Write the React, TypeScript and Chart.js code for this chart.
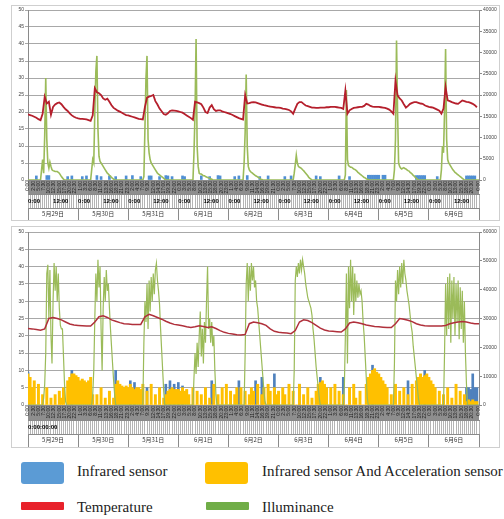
import React, { useEffect, useRef } from 'react';
import { Chart, registerables } from 'chart.js';

Chart.register(...registerables);

// ---------- shared categories ----------
const dates = ['5月29日', '5月30日', '5月31日', '6月1日', '6月2日', '6月3日', '6月4日', '6月5日', '6月6日'];

// ---------- top chart data ----------
// temperature, one value per hour (9 days x 24 h)
const tempTop = [
  19.3, 19.1, 18.9, 18.6, 18.3, 17.9, 17.6, 19.5, 24.5, 22.5, 23.0, 19.2, 21.5, 22.2, 22.6, 22.8, 22.3, 21.5, 20.8, 20.3, 19.6, 19.0, 18.6, 18.3,
  18.1, 18.0, 18.0, 17.9, 17.8, 17.6, 17.4, 19.0, 27.0, 25.8, 25.5, 25.0, 24.0, 23.6, 23.9, 23.0, 22.0, 21.2, 20.8, 20.4, 20.1, 19.8, 19.4, 19.1,
  19.0, 18.8, 18.6, 18.4, 18.2, 18.0, 17.9, 17.8, 21.5, 24.2, 24.5, 24.7, 25.0, 23.2, 22.2, 21.0, 20.2, 19.4, 19.2, 19.6, 20.3, 20.5, 20.4, 20.3,
  20.2, 20.0, 19.8, 19.4, 19.0, 18.6, 18.2, 17.7, 23.0, 22.8, 22.6, 22.3, 21.3, 20.0, 19.7, 21.3, 22.0, 20.8, 20.3, 20.5, 20.5, 20.2, 20.0, 19.8,
  19.6, 19.4, 19.1, 18.8, 18.5, 18.2, 18.0, 17.8, 25.0, 22.5, 22.6, 22.8, 22.9, 22.8, 22.6, 22.4, 22.2, 22.0, 21.9, 21.7, 21.6, 21.5, 21.4, 21.3,
  21.3, 21.2, 21.0, 20.9, 20.8, 20.6, 20.2, 19.5, 21.0, 22.4, 22.9, 22.9, 22.4, 21.9, 21.7, 21.5, 21.3, 21.3, 21.2, 21.2, 21.3, 21.3, 21.3, 21.4,
  21.4, 21.5, 21.5, 21.5, 21.4, 21.3, 21.2, 20.9, 26.3, 19.5, 20.5, 20.9, 21.2, 21.3, 21.4, 21.5, 21.5, 21.8, 22.4, 22.2, 21.8, 21.6, 21.5, 21.5,
  21.5, 21.4, 21.3, 21.2, 21.0, 20.7, 20.2, 19.5, 29.2, 24.9, 24.0, 23.4, 22.3, 21.3, 21.8, 22.4, 22.7, 22.9, 22.9, 22.7, 22.5, 22.4, 22.0, 21.7,
  21.5, 21.4, 21.3, 21.0, 20.7, 20.4, 19.5, 21.0, 27.3, 23.4, 23.2, 22.9, 22.7, 22.5, 22.4, 22.9, 23.4, 23.2, 23.0, 22.9, 22.7, 22.4, 22.0, 21.4,
];

// illuminance (lux): [start hour, readings every half hour]; zero at night
const illumTopSegments: Array<[number, number[]]> = [
  [6.0, [0, 2400, 4800, 1600, 10400, 24000, 9600, 4000, 2800, 4200, 3200, 2400, 2200, 2100, 2000, 2000, 2000, 1800, 1600, 1200, 800, 500, 200, 0]],
  [30.0, [0, 2400, 4800, 4000, 16000, 25600, 29200, 12000, 5600, 4400, 4000, 3600, 3200, 2800, 2400, 2000, 1600, 1400, 1100, 900, 600, 400, 200, 0]],
  [55.0, [0, 800, 12000, 24000, 29200, 9600, 6400, 4800, 4000, 3600, 3200, 2800, 2400, 2000, 1600, 1400, 1200, 1000, 800, 600, 400, 200, 0]],
  [79.0, [0, 6400, 16000, 33200, 8000, 3200, 1600, 1400, 1400, 1200, 1000, 1000, 800, 700, 600, 500, 400, 200, 200, 0]],
  [103.0, [0, 4000, 11200, 24800, 8000, 3200, 2400, 2000, 1800, 1600, 1400, 1200, 1000, 900, 700, 600, 400, 200, 100, 0]],
  [127.0, [0, 1600, 3600, 5800, 4000, 3200, 3000, 2900, 2700, 2400, 2200, 1900, 1600, 1300, 1000, 600, 400, 200, 0]],
  [151.5, [0, 1200, 21200, 4800, 3400, 3200, 3000, 3000, 2800, 2600, 2500, 2300, 2100, 1800, 1600, 1400, 1200, 1000, 800, 600, 500, 300, 200, 100, 0]],
  [175.0, [0, 2400, 9600, 32800, 16000, 4000, 3200, 2800, 2600, 2800, 2900, 2700, 2600, 2400, 2200, 2100, 1800, 1600, 1400, 1100, 900, 600, 400, 200, 0]],
  [197.5, [0, 2400, 8000, 6400, 16000, 30800, 9600, 4800, 4000, 3600, 3200, 2800, 2400, 2100, 1800, 1600, 1400, 1200, 1000, 800, 600, 400, 200, 0]],
];

// infrared sensor hits: [hour, level]
const infraredTop: Array<[number, number]> = [
  [4, 1.2], [9, 1.3], [10, 1.3], [19, 1], [21, 1.2], [26, 1], [28, 1.2], [33, 1.3], [35, 1], [39, 1.2], [42, 1], [47, 1.2],
  [50, 1.3], [54, 1], [58, 1.2], [59, 1.2], [63, 1], [66, 1.3], [67, 1.2], [69, 1], [74, 1.2], [75, 1], [83, 1.2], [87, 1],
  [91, 1.3], [92, 1.2], [99, 1], [101, 1.2], [105, 1.3], [111, 1], [115, 1.2], [123, 1], [126, 1.2], [138, 1.2], [140, 1],
  [149, 1.2], [154, 1], [163, 1.4], [164, 1.4], [165, 1.4], [166, 1.4], [167, 1.4], [168, 1.4], [170, 1.4], [171, 1.4],
  [186, 1.3], [187, 1.3], [188, 1.3], [189, 1.3], [190, 1.3], [196, 1], [210, 1.2], [211, 1.2], [212, 1.2], [213, 1.2], [214, 1.2],
];

// ---------- bottom chart data ----------
// temperature every 2 hours
const tempBottom = [
  22.1, 22.0, 21.8, 21.6, 22.0, 25.0, 25.3, 25.0, 24.6, 24.0, 23.4, 23.1,
  23.0, 22.9, 22.8, 22.8, 24.0, 25.5, 25.8, 25.3, 24.6, 24.2, 23.8, 23.5,
  23.4, 23.3, 23.3, 23.3, 25.5, 26.2, 25.8, 25.3, 24.8, 24.2, 23.7, 23.3,
  23.1, 22.9, 22.6, 22.4, 22.6, 22.9, 22.7, 22.4, 22.6, 22.1, 21.5, 21.0,
  20.7, 20.5, 20.3, 20.2, 20.4, 23.5, 24.0, 23.8, 23.5, 23.0, 22.0, 21.3,
  21.0, 20.9, 20.8, 20.6, 21.5, 24.0, 24.6, 24.4, 23.8, 23.0, 22.2, 21.7,
  21.4, 21.3, 21.2, 21.1, 22.0, 23.7, 24.0, 23.8, 23.5, 23.1, 22.9, 22.7,
  22.6, 22.5, 22.4, 22.4, 23.5, 25.0, 24.8, 24.5, 24.1, 23.5, 23.1, 22.9,
  22.8, 22.8, 22.8, 22.8, 23.0, 23.5, 23.8, 24.0, 24.1, 24.0, 23.7, 23.5,
  23.5,
];

const illumBottomSegments: Array<[number, number[]]> = [
  [7.0, [0, 2400, 7200, 18000, 45600, 48600, 30000, 46800, 24000, 14400, 36000, 49200, 39600, 48000, 36000, 45600, 33600, 27600, 26400, 26400, 16800, 7200, 1200, 0]],
  [30.5, [0, 3600, 12000, 30000, 45600, 36000, 50400, 40800, 48000, 26400, 12000, 33600, 44400, 36000, 46800, 39600, 42000, 33600, 26400, 20400, 14400, 8400, 3600, 0]],
  [55.0, [0, 21600, 36000, 28800, 42000, 26400, 43200, 32400, 44400, 36000, 45600, 38400, 46800, 49200, 43200, 39600, 34800, 26400, 19200, 12000, 4800, 0]],
  [79.0, [0, 9600, 18000, 10800, 21600, 13200, 24000, 32400, 16800, 26400, 14400, 28800, 21600, 36000, 48000, 26400, 30000, 21600, 28800, 20400, 24000, 12000, 3600, 0]],
  [103.5, [0, 18000, 42000, 49200, 36000, 48000, 39600, 49200, 43200, 48000, 40800, 43200, 36000, 33600, 28800, 24000, 19200, 14400, 9600, 4800, 1200, 0]],
  [127.0, [0, 12000, 43200, 48000, 44400, 49200, 45600, 50400, 46800, 50400, 48000, 45600, 42000, 39600, 37200, 36000, 34800, 33600, 31200, 26400, 22800, 18000, 13200, 9600, 6000, 2400, 0]],
  [151.0, [0, 6000, 24000, 45600, 14400, 48000, 33600, 50400, 36000, 48000, 31200, 45600, 36000, 43200, 37200, 42000, 38400, 39600, 36000, 28800, 24000, 16800, 9600, 2400, 0]],
  [175.0, [0, 14400, 43200, 36000, 46800, 38400, 48000, 40800, 49200, 42000, 50400, 45600, 43200, 39600, 37200, 34800, 31200, 27600, 25200, 20400, 16800, 13200, 9600, 6000, 2400, 0]],
  [199.0, [0, 18000, 42000, 24000, 44400, 26400, 45600, 21600, 43200, 30000, 44400, 24000, 42000, 28800, 43200, 22800, 40800, 26400, 39600, 21600, 36000, 18000, 7200, 0]],
];

// infrared + acceleration sensor, one value per hour
const infraredAccelBottom = [
  9, 8, 5, 7, 0, 6, 0, 3, 0, 5, 0, 2, 0, 3, 0, 4, 2, 5, 0, 7, 8, 9, 9, 8.5,
  8, 7, 7.5, 7, 6.5, 7, 8, 3, 0, 3, 0, 5, 0, 2, 0, 4, 0, 2, 6, 7, 6, 5.5, 5, 5.5,
  5, 6, 5, 4.5, 5, 5, 4.5, 6, 0, 4, 0, 6, 0, 3, 0, 5, 0, 2, 3, 4, 4.5, 5, 4.5, 4.5,
  4.5, 4, 5, 4, 4.5, 3, 0, 5, 0, 4, 0, 3, 0, 5, 0, 2, 0, 6, 0, 3, 0, 5, 0, 6,
  0, 4, 0, 3, 5, 0, 5, 0, 4, 0, 3, 5, 4, 0, 6, 0, 3, 5, 0, 6, 4, 0, 5, 3,
  4, 0, 5, 3, 0, 6, 0, 4, 0, 0, 6, 0, 3, 0, 5, 0, 2, 0, 4, 6, 6.5, 7, 6, 5,
  0, 5, 0, 6, 0, 4, 0, 3, 0, 0, 5, 0, 6, 2, 0, 4, 0, 0, 6, 8, 9, 10, 10.5, 9.5,
  9, 8, 7, 6, 5, 0, 3, 0, 6, 0, 4, 0, 5, 0, 3, 0, 6, 0, 7, 8, 9, 8, 8.5, 9,
  8, 7, 6, 5, 0, 4, 0, 3, 0, 5, 0, 2, 0, 6, 0, 4, 0, 3, 1, 1.5, 1, 1.5, 1, 1,
];

const infraredBottom: Array<[number, number]> = [
  [0, 9.5], [21, 10], [42, 10], [49, 7], [51, 6.5], [57, 5], [66, 6], [68, 7], [70, 6], [72, 6.5], [74, 5.5],
  [88, 7], [101, 7], [109, 7], [112, 8], [118, 9], [130, 6], [140, 8], [151, 8], [165, 11.5], [182, 7], [190, 10],
  [210, 5], [211, 5], [212, 4.5], [213, 9], [214, 5], [215, 5],
];

// ---------- legend ----------
const legendItems = [
  { label: 'Infrared sensor', color: '#5b9bd5', kind: 'box', left: 21, top: 462, textLeft: 77, textTop: 464 },
  { label: 'Infrared sensor And Acceleration sensor', color: '#ffc000', kind: 'box', left: 205, top: 462, textLeft: 262, textTop: 464 },
  { label: 'Temperature', color: '#e8222b', kind: 'line', left: 21, top: 502, textLeft: 77, textTop: 500 },
  { label: 'Illuminance', color: '#70ad47', kind: 'line', left: 206, top: 502, textLeft: 262, textTop: 500 },
];

// ---------- helpers ----------
type Pt = { x: number; y: number };
const series = (vals: number[], step: number, start = 0): Pt[] =>
  vals.map((v, i) => ({ x: start + i * step, y: v }));
const segmentsToPoints = (segs: Array<[number, number[]]>): Pt[] => {
  const pts: Pt[] = [{ x: 0, y: 0 }];
  segs.forEach(([s, vals]) => pts.push(...series(vals, 0.5, s)));
  pts.push({ x: 216, y: 0 });
  return pts;
};
const pairsToPoints = (pairs: Array<[number, number]>): Pt[] => pairs.map(([x, y]) => ({ x, y }));

const hourLabel = (v: number) => {
  const h = ((v % 24) + 24) % 24;
  const hh = Math.floor(h);
  const mm = Math.round((h - hh) * 60);
  return `${hh}:${mm < 10 ? '0' + mm : mm}`;
};

const bandPlugin = {
  id: 'grayBand',
  beforeDraw(chart: any) {
    const s = chart.scales.x;
    const ctx = chart.ctx;
    ctx.save();
    ctx.fillStyle = '#8e8e8e';
    ctx.fillRect(s.left, s.top + 1, s.right - s.left, s.bottom - s.top - 1);
    ctx.restore();
  },
};

const AXIS = '#8a8a8a';
const tickFont = { family: "'Liberation Sans', Arial, sans-serif", size: 5 };

interface Spec {
  rightMax: number;
  rightStep: number;
  padTop: number;
  heights: [number, number, number];
  markLabel: (v: number) => string;
  datasets: any[];
}

function buildConfig(spec: Spec): any {
  const [h1, h2, h3] = spec.heights;
  return {
    type: 'line',
    data: { datasets: spec.datasets },
    plugins: [bandPlugin],
    options: {
      responsive: false,
      animation: false,
      events: [],
      layout: { padding: { top: spec.padTop, right: 0, bottom: 0, left: 0 } },
      plugins: { legend: { display: false }, tooltip: { enabled: false }, title: { display: false } },
      scales: {
        x: {
          type: 'linear', position: 'bottom', weight: 0, min: 0, max: 216, offset: false,
          grid: { display: true, drawOnChartArea: false, drawTicks: false, offset: false },
          border: { display: true, color: AXIS },
          ticks: {
            stepSize: 2.5, autoSkip: false, minRotation: 90, maxRotation: 90, font: tickFont,
            color: '#1c1c1c', padding: 1, callback: (v: any) => hourLabel(Number(v)),
          },
          afterFit: (s: any) => { s.height = h1; },
        },
        x2: {
          type: 'linear', position: 'bottom', weight: 1, min: 0, max: 216, offset: false,
          grid: { drawOnChartArea: false, drawTicks: true, tickLength: h2, color: '#b4b4b4', lineWidth: 1, offset: false },
          border: { display: true, color: AXIS },
          ticks: {
            stepSize: 1, autoSkip: false, minRotation: 0, maxRotation: 0, align: 'start',
            font: { family: "'Liberation Sans', Arial, sans-serif", size: 6, weight: 'bold' },
            color: '#000', padding: -(h2 - 4), callback: (v: any) => spec.markLabel(Number(v)),
          },
          afterFit: (s: any) => { s.height = h2; },
        },
        x3: {
          type: 'category', position: 'bottom', weight: 2, labels: dates, offset: true,
          grid: { offset: true, drawOnChartArea: false, drawTicks: true, tickLength: h3, color: AXIS, lineWidth: 1 },
          border: { display: true, color: AXIS },
          ticks: {
            font: { family: "'Noto Sans CJK SC', sans-serif", size: 6 }, color: '#333',
            padding: -(h3 - 2), minRotation: 0, maxRotation: 0, autoSkip: false,
          },
          afterFit: (s: any) => { s.height = h3; },
        },
        y: {
          type: 'linear', position: 'left', min: 0, max: 50,
          grid: { color: '#a8a8a8', lineWidth: 1, tickLength: 3 },
          border: { display: true, color: AXIS },
          ticks: { stepSize: 5, font: tickFont, color: '#444', padding: 1 },
          afterFit: (s: any) => { s.width = 16; },
        },
        y1: {
          type: 'linear', position: 'right', min: 0, max: spec.rightMax,
          grid: { drawOnChartArea: false, tickLength: 3, color: AXIS },
          border: { display: true, color: AXIS },
          ticks: { stepSize: spec.rightStep, font: tickFont, color: '#444', padding: 1, callback: (v: any) => String(v) },
          afterFit: (s: any) => { s.width = 20; },
        },
      },
    },
  };
}

const topSpec: Spec = {
  rightMax: 40000,
  rightStep: 5000,
  padTop: 3,
  heights: [14, 14, 12],
  markLabel: (v) => (v % 12 === 0 && v < 216 ? (v % 24 === 0 ? '0:00' : '12:00') : ''),
  datasets: [
    { type: 'line', label: 'Temperature', data: series(tempTop, 1), xAxisID: 'x', yAxisID: 'y', borderColor: '#b51f2c', borderWidth: 1.8, pointRadius: 0, tension: 0, order: 0 },
    { type: 'line', label: 'Illuminance', data: segmentsToPoints(illumTopSegments), xAxisID: 'x', yAxisID: 'y1', borderColor: '#9bbb59', borderWidth: 1.6, pointRadius: 0, tension: 0, order: 1 },
    { type: 'bar', label: 'Infrared sensor', data: pairsToPoints(infraredTop), xAxisID: 'x', yAxisID: 'y', backgroundColor: '#4f8fd4', barThickness: 2, grouped: false, borderWidth: 0, order: 2 },
  ],
};

const bottomSpec: Spec = {
  rightMax: 60000,
  rightStep: 10000,
  padTop: 5,
  heights: [15, 14, 13],
  markLabel: (v) => (v === 0 ? '0:00:00:00' : ''),
  datasets: [
    { type: 'line', label: 'Temperature', data: series(tempBottom, 2), xAxisID: 'x', yAxisID: 'y', borderColor: '#b0303b', borderWidth: 1.5, pointRadius: 0, tension: 0, order: 0 },
    { type: 'line', label: 'Illuminance', data: segmentsToPoints(illumBottomSegments), xAxisID: 'x', yAxisID: 'y1', borderColor: '#9bbb59', borderWidth: 1.2, pointRadius: 0, tension: 0, order: 1 },
    { type: 'bar', label: 'Infrared sensor And Acceleration sensor', data: series(infraredAccelBottom, 1), xAxisID: 'x', yAxisID: 'y', backgroundColor: '#ffc000', barThickness: 2.3, grouped: false, borderWidth: 0, order: 2 },
    { type: 'bar', label: 'Infrared sensor', data: pairsToPoints(infraredBottom), xAxisID: 'x', yAxisID: 'y', backgroundColor: '#4f81bd', barThickness: 2, grouped: false, borderWidth: 0, order: 3 },
  ],
};

function ChartCanvas({ spec, width, height }: { spec: Spec; width: number; height: number }) {
  const ref = useRef<HTMLCanvasElement>(null);
  useEffect(() => {
    const chart = new Chart(ref.current as HTMLCanvasElement, buildConfig(spec));
    return () => chart.destroy();
  }, [spec]);
  return <canvas ref={ref} width={width} height={height} style={{ display: 'block', width, height }} />;
}

const boxStyle = (top: number, height: number): React.CSSProperties => ({
  position: 'absolute', left: 11, top, width: 489, height, border: '1px solid #cfcfcf', boxSizing: 'border-box', background: '#fff',
});

export default function App() {
  return (
    <div style={{ position: 'fixed', left: 0, top: 0, width: 504, height: 519, background: '#fff', overflow: 'hidden' }}>
      <div style={boxStyle(5, 216)}>
        <ChartCanvas spec={topSpec} width={487} height={214} />
      </div>
      <div style={boxStyle(226, 222)}>
        <ChartCanvas spec={bottomSpec} width={487} height={220} />
      </div>
      {legendItems.map((it) => (
        <React.Fragment key={it.label}>
          <div
            style={{
              position: 'absolute', left: it.left, top: it.top, width: 43,
              height: it.kind === 'box' ? 22 : 8, background: it.color, borderRadius: it.kind === 'box' ? 3 : 1,
            }}
          />
          <div
            style={{
              position: 'absolute', left: it.textLeft, top: it.textTop, whiteSpace: 'nowrap',
              fontFamily: "'Liberation Serif', 'Times New Roman', serif", fontSize: 15, lineHeight: '15px', color: '#222',
            }}
          >
            {it.label}
          </div>
        </React.Fragment>
      ))}
    </div>
  );
}
